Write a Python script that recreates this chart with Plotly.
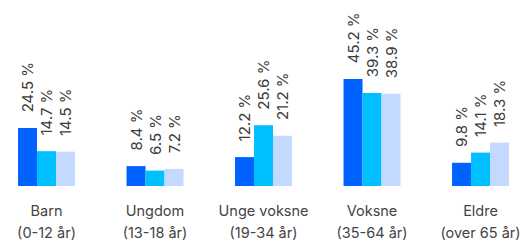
import plotly.graph_objects as go

group_names = ["Barn", "Ungdom", "Unge voksne", "Voksne", "Eldre"]
group_ages = ["(0-12 år)", "(13-18 år)", "(19-34 år)", "(35-64 år)", "(over 65 år)"]
series_a = [24.5, 8.4, 12.2, 45.2, 9.8]
series_b = [14.7, 6.5, 25.6, 39.3, 14.1]
series_c = [14.5, 7.2, 21.2, 38.9, 18.3]
colors = ["#0062ff", "#00c0ff", "#c4d9ff"]

SP = "<span style='font-size:14.5px'>{}</span>"
categories = [SP.format(n) + "<br>" + SP.format(a) for n, a in zip(group_names, group_ages)]

PAD = "\u00a0" * 3
fig = go.Figure()
for vals, col in zip([series_a, series_b, series_c], colors):
    fig.add_trace(go.Bar(
        x=categories, y=vals, marker=dict(color=col, line=dict(width=0)),
        text=[f"{PAD}{v:.1f} %" for v in vals],
        textposition="outside", textangle=-90, constraintext="none",
        textfont=dict(family="Inter", size=15, color="#3c3c3c"),
        cliponaxis=False, hoverinfo="skip",
    ))

fig.update_layout(
    width=521, height=242,
    margin=dict(l=0, r=0, t=0, b=56),
    barmode="group", bargap=0.475, bargroupgap=0,
    showlegend=False,
    paper_bgcolor="white", plot_bgcolor="white",
    font=dict(family="Inter", color="#444444"),
)
fig.update_xaxes(range=[-0.4286, 4.373], showgrid=False, zeroline=False, showline=False,
                 ticks="", ticklabelstandoff=12, tickfont=dict(size=17, color="#444444"))
fig.update_yaxes(range=[0, 78.5], visible=False)

fig.write_html("out.html", config={"displayModeBar": False},
               post_script="document.body.style.margin='0';")
